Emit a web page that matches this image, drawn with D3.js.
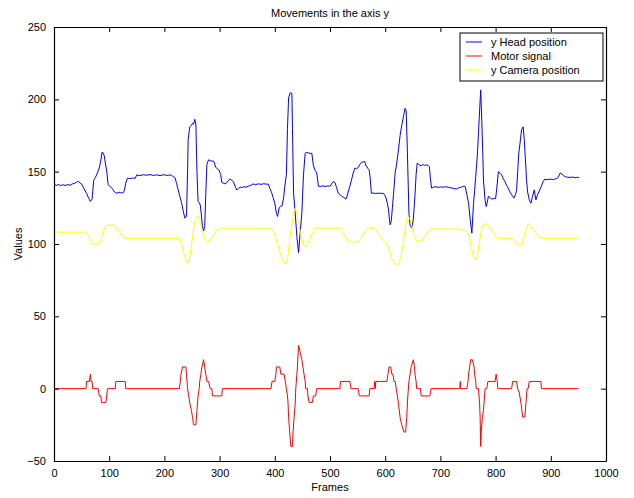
<!DOCTYPE html>
<html>
<head>
<meta charset="utf-8">
<script src="https://cdn.jsdelivr.net/npm/d3@7"></script>
<style>
  body { margin: 0; background: #fff; }
  text { font-family: "Liberation Sans", Arial, sans-serif; }
</style>
</head>
<body>
<svg id="chart"></svg>
<script>
// values, [frame, value]
const headPosition = [[0,141.6],[4,140.5],[8,141.2],[12,140.3],[16,141],[20,140.4],[25,141.1],[29,140.6],[33,141.5],[37,141.9],[41,142.8],[44,143.3],[47,142.2],[50,141.5],[54,138.5],[59,135],[63,131.5],[66,129.4],[69,131],[72,144],[75,146],[78,148.5],[82,152.5],[85,158],[87,163.5],[89,163],[91,161],[93,156],[96,149],[98,141],[101,140],[104,139],[107,137.5],[110,135.8],[114,135],[118,135.8],[122,135.2],[126,135.6],[128,138],[130,142],[133,145.5],[137,145.2],[142,145.6],[147,145.4],[150,147.8],[156,147.3],[162,147.9],[168,147.5],[174,148],[180,147.4],[186,147.8],[192,147.3],[198,147.9],[204,147.4],[210,147.7],[213,147.5],[216,146.5],[219,146],[222,142],[225,137.4],[228,133],[231,128.6],[234,123],[237,117.9],[240,119],[242,150],[243,172],[246,181],[249,182],[251,183.5],[253,182.8],[255,186.2],[257,183],[259,150],[261,129.4],[263,128.5],[265,127],[267,120],[269,112],[271,109],[273,112],[275,135],[277,155],[280,158.2],[284,157.5],[288,157.2],[290,156.8],[293,153],[296,152],[299,151],[302,148],[304,142.5],[307,142],[310,141.6],[313,142.3],[316,144],[319,144.8],[322,144.2],[325,143],[328,140],[331,137.4],[334,138.2],[337,139.3],[340,139],[344,139.6],[348,139.2],[352,140],[355,140.2],[358,141],[361,141.5],[365,141],[370,141.6],[375,141.2],[380,141.7],[385,141.3],[388,141.5],[391,138.5],[394,135.8],[397,132],[400,128.2],[403,121],[405,119],[408,125],[410,126],[413,126.3],[416,132],[418,139.7],[421,148],[423,180],[425,201],[428,204.6],[431,204],[432,180],[434,135],[437,121.3],[440,105],[443,94],[446,108],[449,121.3],[452,148],[455,162.8],[458,163.3],[461,163],[464,162.5],[467,162.8],[470,154],[473,151],[476,149],[479,140],[483,139.7],[487,140.2],[491,139.8],[495,140.1],[500,140],[503,141.5],[506,143.2],[509,142.5],[512,139],[515,135],[518,134.2],[521,133],[525,132.2],[529,131],[531,133],[533,136],[536,140],[539,144.3],[542,149],[545,152.4],[548,152.2],[551,152.8],[554,155],[557,156.3],[560,156.8],[563,157],[565,154],[567,153.5],[569,152],[571,151.2],[573,145],[575,135],[579,135.3],[583,134.8],[587,135.2],[592,135],[597,135],[601,132.5],[604,128],[606,123.6],[608,116],[609,113.3],[611,116],[613,125],[615,134],[618,149],[621,156],[624,165],[627,175],[630,182],[633,188],[636,193.8],[638,192],[640,167],[643,121.3],[645,113],[648,111],[651,117],[654,134],[656,148],[658,155.9],[661,155],[665,154],[668,155],[671,154.3],[675,154.7],[678,154.2],[680,153.5],[682,145],[684,138.6],[688,139.3],[692,139.7],[696,139],[700,139.5],[705,139.2],[710,139.6],[717,139],[723,138.5],[729,137.9],[734,139],[738,139.3],[742,140],[745,139.7],[748,134],[751,128.2],[754,117],[757,107.5],[760,128],[762,137],[764,146.6],[767,162],[769,176.6],[771,192],[773,206.5],[775,185],[777,160],[778,144.3],[781,130],[783,125.9],[785,129],[787,133],[790,132],[793,131],[797,131.5],[800,131.3],[802,138],[805,150],[808,149],[811,147.8],[814,145],[817,143.2],[820,140.5],[823,138.6],[826,136],[829,134],[831,133],[833,131.7],[836,134],[838,137],[840,150],[842,162.8],[845,172],[847,178.9],[850,181],[852,172],[853,165],[855,152],[856,144.3],[858,136],[861,130.5],[864,128.2],[867,133],[870,137.4],[873,130.5],[876,134],[880,137.4],[883,140],[886,143],[889,144.8],[893,144.5],[899,144.8],[905,144.5],[908,145],[911,145.3],[913,146],[917,149],[920,148.5],[923,147.2],[926,146.6],[929,146.2],[935,146],[940,146.3],[944,145.8],[948,146.1],[951,146]]

const motorSignal = [[0,0],[58,0],[59,5],[64,5],[66,10],[67,5],[69,5],[70,0],[80,0],[82,-5],[85,-5],[86,-9.5],[94,-9.5],[97,0],[111,0],[112,5],[129,5],[130,0],[227,0],[229,5],[230,10],[233,15],[239,15],[240,10],[242,0],[244,-5],[246,-10],[249,-15],[251,-20],[253,-25],[257,-25],[259,-15],[261,-5],[263,0],[264,5],[266,10],[268,15],[271,20],[273,15],[275,10],[277,5],[280,5],[283,0],[286,0],[287,-5],[304,-5],[305,0],[393,0],[395,5],[400,5],[402,10],[403,15],[409,15],[411,10],[417,10],[419,5],[421,0],[423,-5],[424,-10],[425,-20],[426,-25],[427,-30],[429,-40],[432,-40],[433,-30],[435,-20],[437,-10],[438,0],[440,10],[441,15],[443,30],[446,25],[449,20],[451,15],[453,10],[455,5],[456,0],[459,0],[460,-5],[462,-9.5],[468,-9.5],[470,-5],[474,-5],[476,0],[518,0],[519,5],[536,5],[538,0],[551,0],[553,-5],[571,-5],[572,0],[580,0],[581,5],[582,0],[583,5],[603,5],[605,10],[607,15],[610,15],[612,10],[614,10],[616,5],[618,5],[620,0],[622,-5],[624,-10],[627,-20],[630,-25],[634,-30],[637,-30],[639,-20],[641,-5],[643,5],[645,10],[647,15],[651,20],[653,15],[654,10],[656,5],[657,0],[664,0],[665,-5],[681,-5],[683,0],[735,0],[736,5],[737,0],[748,0],[750,5],[751,10],[753,15],[755,20],[758,20],[761,15],[762,10],[764,5],[765,0],[769,0],[771,-10],[772,-20],[773,-40],[774,-30],[776,-20],[778,-15],[779,-10],[781,0],[784,0],[786,5],[799,5],[801,10],[803,5],[804,0],[829,0],[831,5],[838,5],[840,0],[843,-3],[846,-10],[849,-19.6],[853,-19.6],[855,-10],[857,0],[859,0],[861,5],[882,5],[883,0],[950,0]]

const cameraPosition = [[0,108.2],[56,108.2],[60,107],[64,104.5],[68,101.5],[71,100],[82,100],[85,103],[89,108],[93,112],[97,113],[110,113],[115,110],[120,107.5],[125,105],[129,104],[227,104],[231,100],[235,94],[239,89],[242,86.5],[245,88],[248,96],[251,105],[254,113],[257,118],[260,119.5],[263,117.5],[266,113],[270,107],[274,103],[278,101.5],[281,102],[285,104],[290,107],[296,110],[302,111],[393,111],[397,109],[402,104],[407,97],[412,91],[417,87],[420,86.3],[423,89],[426,100],[430,112],[434,121],[437,124.8],[440,121],[444,113],[448,105],[452,99],[455,98.3],[459,100],[464,104],[469,108],[473,111],[518,111],[523,108],[528,105],[533,102],[537,101.3],[551,101.3],[556,104],[561,107],[566,110],[570,111],[574,111],[581,110.5],[586,108],[592,105],[598,102],[603,100.6],[608,95],[612,90],[616,87],[620,85.6],[624,86],[628,90],[632,99],[636,110],[639,117],[642,119],[645,117],[649,111],[653,105],[657,102.2],[666,102.2],[670,104],[675,107],[679,109.5],[682,110.3],[733,110.3],[740,109.6],[748,108.6],[752,105],[756,98],[760,91],[764,89],[767,92],[771,102],[775,111],[779,114],[785,113.5],[790,111],[795,108],[800,105.5],[804,104],[829,104],[833,102.5],[837,100.5],[841,99.5],[847,99.5],[851,104],[855,110],[859,114],[863,113],[868,110],[873,107.5],[878,105],[882,104],[950,104]]

const seriesNames = ["y Head position", "Motor signal", "y Camera position"]
const seriesColors = ["#0000ff", "#ff0000", "#ffff00"]
const xTicks = d3.range(0, 1001, 100)
const yTicks = d3.range(-50, 251, 50)

const width = 634, height = 498
const margin = {top: 27, right: 28, bottom: 37, left: 54}
const boundedWidth = width - margin.left - margin.right
const boundedHeight = height - margin.top - margin.bottom

const svg = d3.select("#chart")
    .attr("width", width)
    .attr("height", height)

const bounds = svg.append("g")
    .attr("transform", `translate(${margin.left}, ${margin.top})`)

const xScale = d3.scaleLinear()
    .domain([0, 1000])
    .range([0, boundedWidth])

const yScale = d3.scaleLinear()
    .domain([-50, 250])
    .range([boundedHeight, 0])

const lineGenerator = d3.line()
    .x(d => xScale(d[0]))
    .y(d => yScale(d[1]))

const seriesData = [headPosition, motorSignal, cameraPosition]
seriesData.forEach((data, i) => {
  bounds.append("path")
      .attr("d", lineGenerator(data))
      .attr("fill", "none")
      .attr("stroke", seriesColors[i])
      .attr("stroke-width", 1)
})

// matlab style: ticks inside on all four sides, no labels on top/right
const tickFmt = d => d < 0 ? "\u2212" + Math.abs(d) : d
const xAxis = bounds.append("g")
    .attr("transform", `translate(0, ${boundedHeight})`)
    .call(d3.axisBottom(xScale).tickValues(xTicks).tickSizeInner(-5).tickSizeOuter(0).tickPadding(8).tickFormat(tickFmt))
const xAxisTop = bounds.append("g")
    .call(d3.axisTop(xScale).tickValues(xTicks).tickSizeInner(-5).tickSizeOuter(0).tickFormat(""))
const yAxis = bounds.append("g")
    .call(d3.axisLeft(yScale).tickValues(yTicks).tickSizeInner(-5).tickSizeOuter(0).tickPadding(8).tickFormat(tickFmt))
const yAxisRight = bounds.append("g")
    .attr("transform", `translate(${boundedWidth}, 0)`)
    .call(d3.axisRight(yScale).tickValues(yTicks).tickSizeInner(-5).tickSizeOuter(0).tickFormat(""))

bounds.selectAll(".domain").attr("stroke", "#000").attr("stroke-width", 1.2)
bounds.selectAll(".tick line").attr("stroke", "#000")
bounds.selectAll(".tick text")
    .attr("fill", "#000")
    .style("font-size", "11px")
    .style("font-family", "'Liberation Sans', Arial, sans-serif")

// title and axis labels
svg.append("text")
    .attr("x", margin.left + boundedWidth / 2)
    .attr("y", 17)
    .attr("text-anchor", "middle")
    .style("font-size", "11px")
    .text("Movements in the axis y")

svg.append("text")
    .attr("x", margin.left + boundedWidth / 2)
    .attr("y", 491)
    .attr("text-anchor", "middle")
    .style("font-size", "11px")
    .text("Frames")

svg.append("text")
    .attr("transform", `translate(22, ${margin.top + boundedHeight / 2}) rotate(-90)`)
    .attr("text-anchor", "middle")
    .style("font-size", "11px")
    .text("Values")

// legend box
const legend = svg.append("g")
    .attr("transform", "translate(460, 33)")

legend.append("rect")
    .attr("width", 143)
    .attr("height", 48)
    .attr("fill", "#fff")
    .attr("stroke", "#000")
    .attr("stroke-width", 1)

seriesNames.forEach((name, i) => {
  const y = 9 + i * 14
  legend.append("line")
      .attr("x1", 6).attr("x2", 22)
      .attr("y1", y).attr("y2", y)
      .attr("stroke", seriesColors[i])
  legend.append("text")
      .attr("x", 31)
      .attr("y", y + 4)
      .style("font-size", "11px")
      .text(name)
})
</script>
</body>
</html>
